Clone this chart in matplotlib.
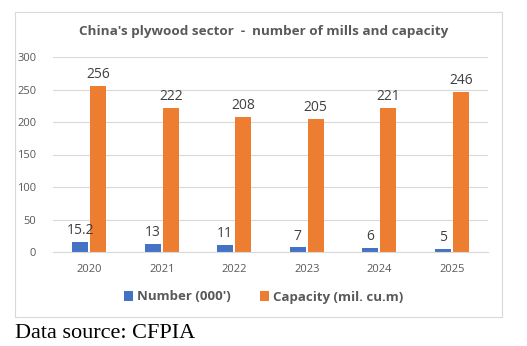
import numpy as np
import matplotlib.pyplot as plt
from matplotlib.patches import Rectangle

# Daten
years = ["2020", "2021", "2022", "2023", "2024", "2025"]
number = [15.2, 13, 11, 7, 6, 5]
capacity = [256, 222, 208, 205, 221, 246]
number_labels = ["15.2", "13", "11", "7", "6", "5"]
capacity_labels = ["256", "222", "208", "205", "221", "246"]

blue = "#4472C4"
orange = "#ED7D31"
gray = "#595959"
font = "Open Sans"

fig = plt.figure(figsize=(5.27, 3.46), dpi=100)

# Rahmen um das Diagramm
fig.patches.append(Rectangle((15/527, 1-317/346), 487/527, 305/346,
                             transform=fig.transFigure, fill=False,
                             edgecolor="#D9D9D9", linewidth=0.8))

ax = fig.add_axes([53/527, 1-252/346, 435/527, 195/346])

x = np.arange(len(years))
w = 0.22
gap = 0.03
b1 = ax.bar(x - (w+gap)/2, number, w, color=blue, label="Number (000')")
b2 = ax.bar(x + (w+gap)/2, capacity, w, color=orange, label="Capacity (mil. cu.m)")

for rect, lab in zip(b1, number_labels):
    ax.text(rect.get_x() + rect.get_width()/2, rect.get_height() + 6, lab,
            ha="center", va="bottom", fontsize=10, color="#404040", family=font)
for rect, lab in zip(b2, capacity_labels):
    ax.text(rect.get_x() + rect.get_width()/2, rect.get_height() + 6, lab,
            ha="center", va="bottom", fontsize=10, color="#404040", family=font)

ax.set_xlim(-0.5, len(years) - 0.5)
ax.set_ylim(0, 300)
ax.set_yticks(range(0, 301, 50))
ax.set_xticks(x)
ax.set_xticklabels(years)
ax.grid(axis="y", color="#D9D9D9", linewidth=0.8)
ax.set_axisbelow(True)
for s in ["top", "right", "left"]:
    ax.spines[s].set_visible(False)
ax.spines["bottom"].set_color("#D9D9D9")
ax.tick_params(axis="both", length=0, labelsize=8, labelcolor=gray)
ax.tick_params(axis="x", pad=9)
ax.tick_params(axis="y", pad=12)
for t in ax.get_xticklabels() + ax.get_yticklabels():
    t.set_family(font)

fig.text(0.5, 1-31/346, "China's plywood sector  -  number of mills and capacity",
         ha="center", va="center", fontsize=9.7, fontweight="bold", color=gray, family=font)

fig.legend(handles=[b1, b2], loc="center", bbox_to_anchor=(0.5, 1-297/346),
           ncol=2, frameon=False, handlelength=0.7, handleheight=0.7,
           handletextpad=0.3, columnspacing=2.2,
           prop={"family": font, "size": 9.5, "weight": "bold"}, labelcolor=gray)

fig.text(15/527, 1-338/346, "Data source: CFPIA", ha="left", va="baseline",
         fontsize=16, family="Liberation Serif", color="black")

fig.savefig("out.png", dpi=100)
